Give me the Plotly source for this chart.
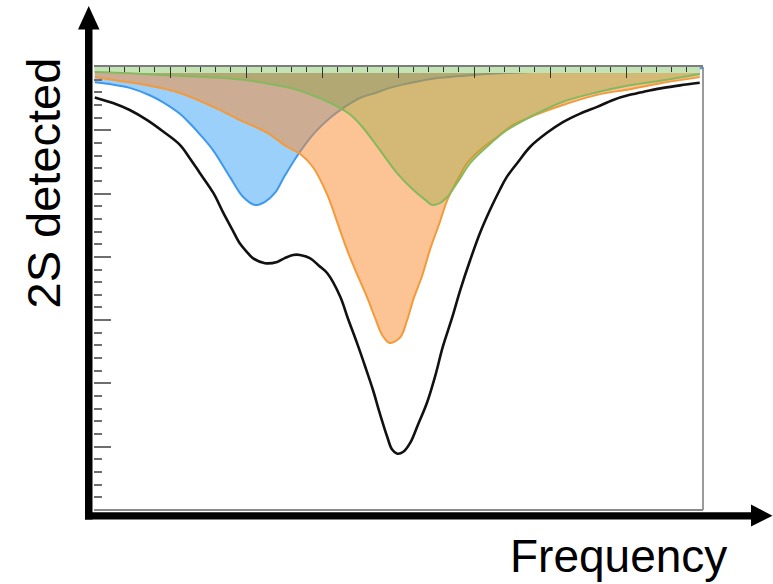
import plotly.graph_objects as go

# Signal level with no resonance (top of the axis)
baseline = 7.0

# Resonance component A (blue)
freq_blue = [-3.99, -3.79, -3.53, -3.26, -3.09, -2.87, -2.74, -2.61, -2.43, -2.21,
             -2.04, -1.88, -1.75, -1.62, -1.49, -1.29, -1.09, -0.90, -0.70, -0.50,
             -0.30, -0.11, 0.09, 0.29, 0.55, 0.95, 1.34, 1.74, 2.13, 2.66, 3.18, 4.01]
counts_blue = [6.76, 6.73, 6.67, 6.55, 6.44, 6.26, 6.11, 5.94, 5.68, 5.26,
               4.95, 4.82, 4.87, 5.01, 5.28, 5.66, 5.97, 6.19, 6.37, 6.51,
               6.59, 6.67, 6.73, 6.78, 6.83, 6.87, 6.90, 6.92, 6.94, 6.95, 6.97, 6.98]

# Resonance component B (orange)
freq_orange = [-3.99, -3.66, -3.30, -2.87, -2.43, -2.08, -1.72, -1.46, -1.29, -1.12,
               -0.93, -0.80, -0.67, -0.54, -0.41, -0.30, -0.21, -0.11, 0.03, 0.12,
               0.20, 0.32, 0.42, 0.55, 0.65, 0.78, 0.91, 1.08, 1.30, 1.51, 1.74, 2.17,
               2.62, 3.05, 3.49, 3.97]
counts_orange = [6.84, 6.78, 6.71, 6.59, 6.37, 6.16, 5.96, 5.74, 5.63, 5.42,
                 4.98, 4.55, 4.11, 3.73, 3.37, 3.03, 2.77, 2.64, 2.73, 3.00,
                 3.32, 3.71, 4.11, 4.55, 4.90, 5.21, 5.48, 5.69, 5.89, 6.08, 6.21, 6.40,
                 6.56, 6.65, 6.75, 6.84]

# Resonance component C (green)
freq_green = [-3.99, -3.53, -2.87, -2.34, -1.99, -1.68, -1.42, -1.03, -0.76, -0.63,
              -0.46, -0.24, -0.01, 0.20, 0.36, 0.45, 0.55, 0.65, 0.78, 0.95,
              1.17, 1.43, 1.74, 2.17, 2.62, 3.05, 3.49, 3.97]
counts_green = [6.92, 6.90, 6.86, 6.83, 6.79, 6.73, 6.67, 6.51, 6.35, 6.25,
                6.04, 5.69, 5.32, 5.06, 4.90, 4.82, 4.85, 4.95, 5.17, 5.48,
                5.74, 6.00, 6.21, 6.45, 6.60, 6.71, 6.79, 6.89]

# Measured total signal (black)
freq_total = [-3.99, -3.75, -3.53, -3.30, -3.09, -2.87, -2.74, -2.61, -2.43, -2.30,
              -2.18, -2.08, -1.99, -1.91, -1.75, -1.59, -1.49, -1.38, -1.29, -1.16,
              -1.04, -0.93, -0.76, -0.66, -0.54, -0.43, -0.33, -0.24, -0.14, -0.08,
              -0.01, 0.07, 0.16, 0.26, 0.38, 0.49, 0.59, 0.71, 0.82, 0.95,
              1.08, 1.21, 1.34, 1.43, 1.58, 1.74, 1.96, 2.17, 2.39, 2.62,
              2.83, 3.05, 3.28, 3.49, 3.71, 3.97]
counts_total = [6.52, 6.43, 6.32, 6.16, 5.98, 5.77, 5.56, 5.33, 5.01, 4.70,
                4.43, 4.21, 4.08, 3.98, 3.90, 3.92, 3.98, 4.03, 4.03, 3.98,
                3.86, 3.74, 3.37, 3.03, 2.64, 2.26, 1.90, 1.53, 1.15, 0.96,
                0.89, 0.92, 1.06, 1.34, 1.69, 2.12, 2.58, 3.03, 3.48, 3.95,
                4.38, 4.74, 5.06, 5.26, 5.50, 5.74, 5.96, 6.13, 6.26, 6.37,
                6.48, 6.56, 6.62, 6.67, 6.71, 6.75]

# (x, y, fill colour, line colour, baseline band colour or None)
components = [
    (freq_blue, counts_blue, "rgba(33,150,243,0.45)", "#3d98ee", None),
    (freq_orange, counts_orange, "rgba(250,140,50,0.52)", "#f39a3c", None),
    (freq_green, counts_green, "rgba(120,160,45,0.30)", "#86b85e",
     "rgba(196,230,184,0.95)"),
]

# Page geometry (pixels)
W, H = 773, 584
ML, MR, MT, MB = 94, 70, 67, 74
PW, PH = W - ML - MR, H - MT - MB


def px(x):
    return (x - ML) / PW


def py(y):
    return (H - MB - y) / PH


fig = go.Figure()

for fx, fy, fill, line, band in components:
    base_line = dict(width=0) if band is None else dict(width=12, color=band)
    fig.add_trace(go.Scatter(x=fx, y=[baseline] * len(fx), mode="lines",
                             line=base_line, showlegend=False, hoverinfo="skip"))
    fig.add_trace(go.Scatter(x=fx, y=fy, mode="lines", fill="tonexty",
                             fillcolor=fill,
                             line=dict(color=line, width=2, shape="spline", smoothing=1.0),
                             showlegend=False))

fig.add_trace(go.Scatter(x=freq_total, y=counts_total, mode="lines",
                         line=dict(color="#111111", width=2.6, shape="spline", smoothing=1.0),
                         showlegend=False))

tick_dark = "#333333"
tick_gray = "#6e6e6e"

fig.update_xaxes(range=[-4, -4 + PW / 76.0], side="top", showticklabels=False,
                 ticks="inside", ticklen=11, tickwidth=1.3, tickcolor=tick_dark,
                 tick0=-4, dtick=1,
                 minor=dict(ticks="inside", ticklen=5, tickwidth=1.3,
                            tickcolor=tick_dark, tick0=-4, dtick=0.2),
                 showline=True, linecolor="#7c7c7c", linewidth=2,
                 showgrid=False, zeroline=False, automargin=False)
fig.update_yaxes(range=[0, 7], showticklabels=False,
                 ticks="inside", ticklen=17, tickwidth=2, tickcolor=tick_gray,
                 tick0=0, dtick=1,
                 minor=dict(ticks="inside", ticklen=8, tickwidth=2,
                            tickcolor=tick_gray, tick0=0, dtick=0.2),
                 showline=False, showgrid=False, zeroline=False, automargin=False)

shapes = [
    # frame on the right and bottom
    dict(type="line", xref="paper", yref="paper", x0=1, x1=1, y0=0, y1=1,
         line=dict(color="#7a7a7a", width=1.5)),
    dict(type="line", xref="paper", yref="paper", x0=0, x1=1, y0=0, y1=0,
         line=dict(color="#8a8a8a", width=2)),
    # vertical axis arrow
    dict(type="rect", xref="paper", yref="paper",
         x0=px(85), x1=px(92.5), y0=py(519.5), y1=py(28),
         fillcolor="black", line=dict(width=0)),
    dict(type="path", xref="paper", yref="paper",
         path=f"M {px(78)} {py(29.5)} L {px(99.5)} {py(29.5)} L {px(88.7)} {py(6)} Z",
         fillcolor="black", line=dict(width=0)),
    # horizontal axis arrow
    dict(type="rect", xref="paper", yref="paper",
         x0=px(85), x1=px(752), y0=py(519.5), y1=py(512.3),
         fillcolor="black", line=dict(width=0)),
    dict(type="path", xref="paper", yref="paper",
         path=f"M {px(751)} {py(504.5)} L {px(751)} {py(526.5)} L {px(772.5)} {py(515.8)} Z",
         fillcolor="black", line=dict(width=0)),
]

font_family = "Liberation Sans, Arial, sans-serif"
annotations = [
    dict(text="Frequency", xref="paper", yref="paper", x=px(618), y=py(528),
         xanchor="center", yanchor="top", showarrow=False,
         font=dict(family=font_family, size=46, color="black")),
    dict(text="2S detected", xref="paper", yref="paper", x=px(43), y=py(183.5),
         xanchor="center", yanchor="middle", textangle=-90, showarrow=False,
         font=dict(family=font_family, size=47, color="black")),
]

fig.update_layout(width=W, height=H,
                  margin=dict(l=ML, r=MR, t=MT, b=MB, autoexpand=False),
                  paper_bgcolor="white", plot_bgcolor="white",
                  shapes=shapes, annotations=annotations, showlegend=False)

fig.write_html("out.html")
